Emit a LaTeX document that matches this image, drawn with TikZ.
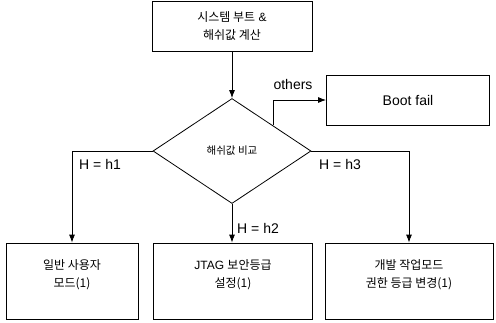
\documentclass[tikz,border=0pt]{standalone}
\usepackage{fontspec}
\setmainfont{Liberation Sans}
\newfontfamily\kr{Noto Sans CJK KR}
\usetikzlibrary{shapes.geometric,arrows.meta}
\begin{document}
\begin{tikzpicture}[x=1pt,y=-1pt,
  box/.style={draw,line width=0.8pt,minimum width=#1,minimum height=50pt,inner sep=0pt,align=center,font=\fontsize{12}{18}\selectfont},
  box/.default=160pt,
  flow/.style={line width=0.8pt,-{Latex[length=8pt,width=6pt]}},
  lbl/.style={font=\fontsize{14}{16}\selectfont,inner sep=1pt}]
\useasboundingbox (0,0) rectangle (496,322);
% start: boot and hash computation
\node[box=160pt] (start) at (232,26) {{\kr 시스템 부트} \&\\{\kr 해쉬값 계산}};
% hash comparison
\node[draw,line width=0.8pt,diamond,aspect=1.52,minimum width=158pt,minimum height=105pt,inner sep=0pt,font=\fontsize{10.5}{12}\selectfont] (cmp) at (232,151) {\kr 해쉬값 비교};
% failure outcome
\node[box=163pt,font=\fontsize{14}{16}\selectfont] (fail) at (408,100) {Boot fail};
% three outcomes (text set in the upper part of each box)
\node[box=132pt,minimum height=76pt] (m1) at (72,281) {\kr 일반 사용자\\\kr 모드(1)\\[-4pt]\mbox{}};
\node[box=159pt,minimum height=76pt] (m2) at (233,281) {JTAG {\kr 보안등급}\\\kr 설정(1)\\[-4pt]\mbox{}};
\node[box=168pt,minimum height=76pt] (m3) at (409,281) {\kr 개발 작업모드\\\kr 권한 등급 변경(1)\\[-4pt]\mbox{}};
% connectors
\draw[flow] (start.south) -- (cmp.north);
\coordinate (oth) at (273,125);
\draw[flow] (oth) |- (fail.west);
\node[lbl,anchor=south] at (293,91) {others};
\draw[flow] (cmp.west) -| (m1.north);
\draw[flow] (cmp.east) -| (m3.north);
\draw[flow] (cmp.south) -- (m2.north -| cmp.south);
\node[lbl,anchor=west] at (78,164) {H = h1};
\node[lbl,anchor=west] at (318,164) {H = h3};
\node[lbl,anchor=west] at (236,228) {H = h2};
\end{tikzpicture}
\end{document}
